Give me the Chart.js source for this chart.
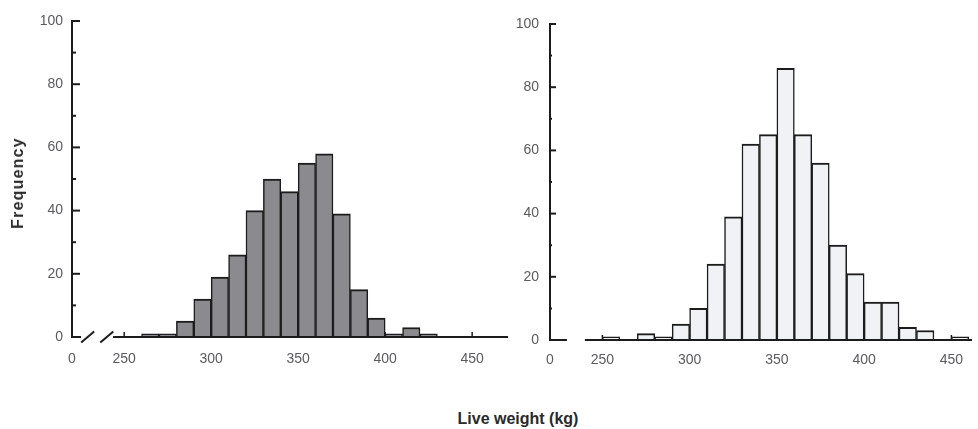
<!DOCTYPE html>
<html>
<head>
<meta charset="utf-8">
<script src="https://cdn.jsdelivr.net/npm/chart.js@4.4.1/dist/chart.umd.min.js"></script>
<style>
html, body { margin: 0; padding: 0; background: #fff; }
#wrap { position: relative; width: 978px; height: 429px; overflow: hidden; font-family: "Liberation Sans", Arial, sans-serif; }
#left-box { position: absolute; left: 0; top: 0; width: 520px; height: 400px; }
#right-box { position: absolute; left: 490px; top: 0; width: 488px; height: 400px; }
#y-title { position: absolute; left: 18px; top: 183px; transform: translate(-50%, -50%) rotate(-90deg); font-weight: bold; font-size: 16px; letter-spacing: 1.2px; color: #2a2a2a; white-space: nowrap; }
#x-title { position: absolute; left: 518px; top: 419px; transform: translate(-50%, -50%); font-weight: bold; font-size: 16px; color: #2a2a2a; white-space: nowrap; }
</style>
</head>
<body>
<div id="wrap">
  <div id="left-box"><canvas id="leftChart"></canvas></div>
  <div id="right-box"><canvas id="rightChart"></canvas></div>
  <div id="y-title">Frequency</div>
  <div id="x-title">Live weight (kg)</div>
</div>
<script>
// histogram bins (start of each 10 kg class) and counts
let binStarts_left = [260, 270, 280, 290, 300, 310, 320, 330, 340, 350, 360, 370, 380, 390, 400, 410, 420]
let counts_left    = [1, 1, 5, 12, 19, 26, 40, 50, 46, 55, 58, 39, 15, 6, 1, 3, 1]

let binStarts_right = [250, 260, 270, 280, 290, 300, 310, 320, 330, 340, 350, 360, 370, 380, 390, 400, 410, 420, 430, 440, 450]
let counts_right    = [1, 0, 2, 1, 5, 10, 24, 39, 62, 65, 86, 65, 56, 30, 21, 12, 12, 4, 3, 0, 1]

let xTickValues = [220, 250, 300, 350, 400, 450]
let xTickLabels = ['0', '250', '300', '350', '400', '450']
let yTickValues = [0, 20, 40, 60, 80, 100]
let yMinorValues = [10, 30, 50, 70, 90]

const ink = '#1c1c1c'
const labelGrey = '#5a5a60'

let handAxes = {
	id: 'handAxes',
	beforeDatasetsDraw(chart, args, o) {
		// little upward ticks on the weight axis, mostly hidden behind the bars
		let ctx = chart.ctx, xs = chart.scales.x, ys = chart.scales.y
		let base = ys.getPixelForValue(0)
		ctx.save()
		ctx.strokeStyle = ink
		ctx.lineWidth = 1.5
		xTickValues.slice(1).forEach(function(v) {
			let px = xs.getPixelForValue(v)
			ctx.beginPath(); ctx.moveTo(px, base); ctx.lineTo(px, base - 5); ctx.stroke()
		})
		ctx.restore()
	},
	afterDatasetsDraw(chart, args, o) {
		let ctx = chart.ctx, xs = chart.scales.x, ys = chart.scales.y
		let area = chart.chartArea
		let left = area.left, base = ys.getPixelForValue(0)
		ctx.save()
		ctx.strokeStyle = ink
		ctx.lineCap = 'butt'
		// frequency axis
		ctx.lineWidth = 2
		ctx.beginPath(); ctx.moveTo(left, base + 1); ctx.lineTo(left, ys.getPixelForValue(100) - 1); ctx.stroke()
		yTickValues.slice(1).forEach(function(v) {
			let py = ys.getPixelForValue(v)
			ctx.beginPath(); ctx.moveTo(left, py); ctx.lineTo(left + o.major, py); ctx.stroke()
		})
		yMinorValues.forEach(function(v) {
			let py = ys.getPixelForValue(v)
			ctx.beginPath(); ctx.moveTo(left, py); ctx.lineTo(left + o.minor, py); ctx.stroke()
		})
		// weight axis with break
		ctx.beginPath()
		ctx.moveTo(left, base); ctx.lineTo(xs.getPixelForValue(o.gapFrom), base)
		ctx.moveTo(xs.getPixelForValue(o.gapTo), base); ctx.lineTo(area.right, base)
		ctx.stroke()
		if (o.slashes) {
			o.slashes.forEach(function(v) {
				let px = xs.getPixelForValue(v)
				ctx.beginPath(); ctx.moveTo(px - 6.5, base + 5.5); ctx.lineTo(px + 6.5, base - 5.5); ctx.stroke()
			})
		}
		ctx.restore()
	}
}

let make_histogram = function(canvasId, starts, counts, fill, cfg) {
	let ctx = document.getElementById(canvasId).getContext('2d')
	return new Chart(ctx, {
		type: 'bar',
		data: {
			datasets: [{
				data: starts.map((b, i) => ({ x: b + 5, y: counts[i] })),
				backgroundColor: fill,
				borderColor: ink,
				borderWidth: { top: 2, left: 1.5, right: 1.5, bottom: 0 },
				borderSkipped: 'start',
				barPercentage: 1,
				categoryPercentage: 1
			}]
		},
		options: {
			responsive: true,
			maintainAspectRatio: false,
			animation: false,
			layout: { padding: { top: cfg.top, right: cfg.right, left: 0, bottom: 0 } },
			plugins: {
				legend: { display: false },
				tooltip: { enabled: false },
				handAxes: cfg.axes
			},
			scales: {
				x: {
					type: 'linear',
					offset: false,
					min: 220,
					max: cfg.xMax,
					grid: { display: false, drawTicks: false },
					border: { display: false },
					afterBuildTicks: function(scale) { scale.ticks = xTickValues.map(v => ({ value: v })) },
					afterFit: function(scale) { scale.height = cfg.xHeight },
					ticks: {
						autoSkip: false,
						maxRotation: 0,
						padding: cfg.xPad,
						color: labelGrey,
						font: { family: '"Liberation Sans", Arial, sans-serif', size: 14 },
						callback: function(v) { return xTickLabels[xTickValues.indexOf(v)] }
					}
				},
				y: {
					min: 0,
					max: 100,
					grid: { display: false, drawTicks: false },
					border: { display: false },
					afterBuildTicks: function(scale) { scale.ticks = yTickValues.map(v => ({ value: v })) },
					afterFit: function(scale) { scale.width = cfg.yWidth },
					ticks: {
						padding: cfg.yPad,
						color: labelGrey,
						font: { family: '"Liberation Sans", Arial, sans-serif', size: 14 }
					}
				}
			}
		},
		plugins: [handAxes]
	})
}

let leftChart = make_histogram('leftChart', binStarts_left, counts_left, '#8b8b8f', {
	top: 21, right: 12, xMax: 470.6, xHeight: 63, yWidth: 72, xPad: 14, yPad: 9,
	axes: { major: 8, minor: 4, gapFrom: 225.2, gapTo: 243.6, slashes: [229, 240] }
})

let rightChart = make_histogram('rightChart', binStarts_right, counts_right, '#f1f2f5', {
	top: 24, right: 6, xMax: 461.8, xHeight: 60, yWidth: 60, xPad: 12, yPad: 11,
	axes: { major: 6, minor: 2, gapFrom: 229.7, gapTo: 240, slashes: null }
})
</script>
</body>
</html>
